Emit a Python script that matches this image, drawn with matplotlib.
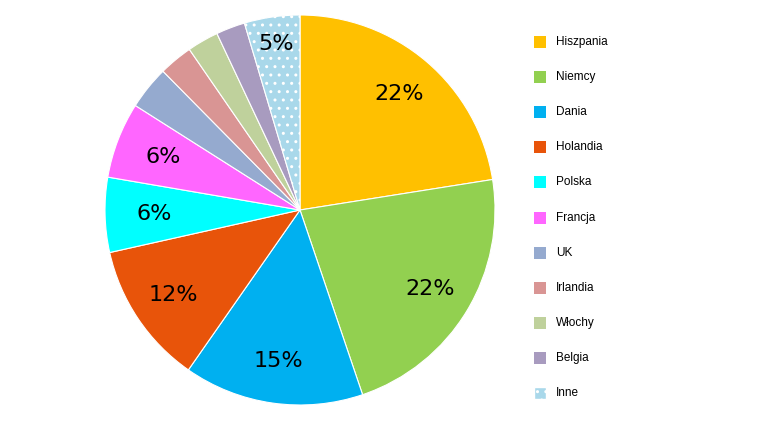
import matplotlib
matplotlib.use("Agg")
import matplotlib.pyplot as plt
from matplotlib.patches import Rectangle

countries = ["Hiszpania", "Niemcy", "Dania", "Holandia", "Polska", "Francja",
             "UK", "Irlandia", "Włochy", "Belgia", "Inne"]
shares = [22.5, 22.3, 14.9, 11.8, 6.2, 6.3, 3.6, 2.8, 2.6, 2.4, 4.6]
labels_shown = ["22%", "22%", "15%", "12%", "6%", "6%", "", "", "", "", "5%"]
colors = ["#FFC000", "#92D050", "#00B0F0", "#E8540A", "#00FFFF", "#FF66FF",
          "#95AACF", "#D99594", "#BFD19C", "#A89BBF", "#A9D8EA"]

fig = plt.figure(figsize=(7.78, 4.38), dpi=100)
ax = fig.add_axes([105/778, 33/438, 390/778, 390/438])
wedges, _ = ax.pie(shares, colors=colors, startangle=90, counterclock=False,
                   wedgeprops=dict(linewidth=0.8, edgecolor="white"))
wedges[-1].set_hatch("..")
wedges[-1].set_edgecolor("white")
import numpy as np
cum = np.cumsum([0] + shares)
tot = sum(shares)
for i, lab in enumerate(labels_shown):
    if not lab:
        continue
    mid = (cum[i] + cum[i+1]) / 2 / tot
    ang = np.deg2rad(90 - 360 * mid)
    r = 0.78 if i < 4 else 0.75
    if i == 10:
        r = 0.86
    ax.text(r*np.cos(ang), r*np.sin(ang), lab, ha="center", va="center", fontsize=16)
ax.set_xlim(-1, 1); ax.set_ylim(-1, 1)
ax.set_aspect("equal"); ax.axis("off")

for i, (name, c) in enumerate(zip(countries, colors)):
    y = 42 + i * 35.1
    r = Rectangle((534/778, 1 - (y + 6)/438), 12/778, 12/438, transform=fig.transFigure,
                  facecolor=c, edgecolor="white" if i == 10 else "none",
                  hatch=".." if i == 10 else None)
    fig.patches.append(r)
    fig.text(556/778, 1 - y/438, name, fontsize=8.5, va="center", ha="left",
             family="Liberation Sans")

fig.savefig("out.png", dpi=100)
